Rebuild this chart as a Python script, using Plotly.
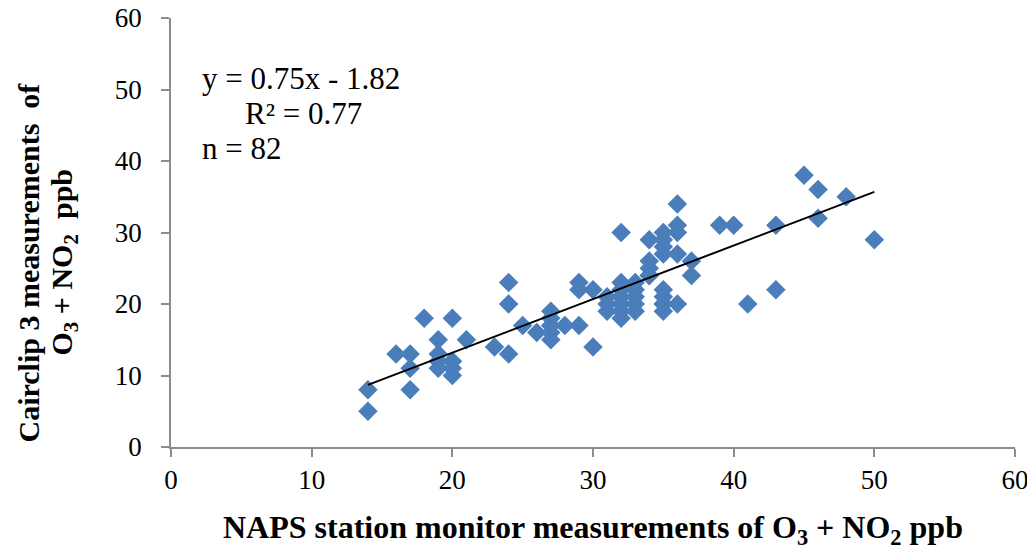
import plotly.graph_objects as go

# Data
naps_x = [14, 14, 16, 17, 17, 17, 18, 19, 19, 19, 19, 20, 20, 20, 20, 21, 23, 24, 24, 24,
          25, 26, 27, 27, 27, 27, 27, 28, 29, 29, 30, 30, 31, 31, 31, 32, 32, 32, 32, 32,
          32, 32, 33, 33, 33, 33, 34, 34, 34, 34, 35, 35, 35, 35, 35, 35, 35, 35, 36, 36,
          36, 36, 36, 37, 37, 39, 40, 41, 43, 43, 45, 46, 46, 48, 50, 20, 27, 32, 35, 34,
          33, 29]
cairclip_y = [8, 5, 13, 13, 11, 8, 18, 15, 13, 11, 12, 18, 12, 11, 10, 15, 14, 23, 20, 13,
              17, 16, 19, 18, 17, 16, 15, 17, 23, 17, 22, 14, 21, 19, 20, 30, 23, 22, 21, 20,
              19, 18, 23, 21, 20, 19, 29, 26, 25, 24, 30, 29, 28, 27, 22, 21, 20, 19, 34, 31,
              30, 27, 20, 26, 24, 31, 31, 20, 31, 22, 38, 36, 32, 35, 29, 12, 17, 20, 20, 24,
              22, 22]

slope = 0.75
intercept = -1.82
r_squared = 0.77
n_points = 82

x_ticks = [0, 10, 20, 30, 40, 50, 60]
y_ticks = [0, 10, 20, 30, 40, 50, 60]

line_x = [min(naps_x), max(naps_x)]
line_y = [slope * v + intercept for v in line_x]

fig = go.Figure()
fig.add_trace(go.Scatter(
    x=naps_x, y=cairclip_y, mode="markers",
    marker=dict(symbol="diamond", size=15, color="#4a7ebb",
                line=dict(width=0)),
    showlegend=False,
))
fig.add_trace(go.Scatter(
    x=line_x, y=line_y, mode="lines",
    line=dict(color="black", width=2),
    showlegend=False,
))

serif = "Liberation Serif, Times New Roman, serif"
axis_common = dict(
    showgrid=False, zeroline=False, showline=True,
    linecolor="#8c8c8c", linewidth=1.5,
    ticks="outside", ticklen=8, tickcolor="#8c8c8c", tickwidth=1.5,
    ticklabeloverflow="allow",
)

fig.update_layout(
    width=1027, height=544,
    margin=dict(l=163, r=20, t=10, b=105, autoexpand=False),
    plot_bgcolor="white", paper_bgcolor="white",
    xaxis=dict(range=[0, 60], tickvals=x_ticks,
               tickfont=dict(family=serif, size=27, color="black"),
               **axis_common),
    yaxis=dict(range=[0, 60], tickvals=y_ticks,
               tickfont=dict(family=serif, size=27, color="black"),
               ticklabelstandoff=14,
               **axis_common),
)

fig.add_annotation(
    xref="paper", yref="paper", x=0.5, y=0, yshift=-82,
    xanchor="center", yanchor="middle", showarrow=False,
    text="<b>NAPS station monitor measurements of O<sub>3</sub> + NO<sub>2</sub> ppb</b>",
    font=dict(family=serif, size=32, color="black"),
)
fig.add_annotation(
    xref="paper", yref="paper", x=0, y=0.5, xshift=-143, yshift=-30,
    xanchor="center", yanchor="middle", showarrow=False, textangle=-90,
    text="<b>Cairclip 3 measurements  of</b>",
    font=dict(family=serif, size=30, color="black"),
)
fig.add_annotation(
    xref="paper", yref="paper", x=0, y=0.5, xshift=-108, yshift=-30,
    xanchor="center", yanchor="middle", showarrow=False, textangle=-90,
    text="<b>O<sub>3</sub> + NO<sub>2</sub>  ppb</b>",
    font=dict(family=serif, size=30, color="black"),
)

fig.add_annotation(
    xref="x", yref="y", x=2.06, y=51.6, xanchor="left", yanchor="middle",
    showarrow=False, text=f"y = {slope}x - {abs(intercept)}",
    font=dict(family=serif, size=31, color="black"),
)
fig.add_annotation(
    xref="x", yref="y", x=5.1, y=46.7, xanchor="left", yanchor="middle",
    showarrow=False, text=f"R² = {r_squared}",
    font=dict(family=serif, size=31, color="black"),
)
fig.add_annotation(
    xref="x", yref="y", x=2.06, y=41.8, xanchor="left", yanchor="middle",
    showarrow=False, text=f"n = {n_points}",
    font=dict(family=serif, size=31, color="black"),
)

fig.write_html("out.html")
